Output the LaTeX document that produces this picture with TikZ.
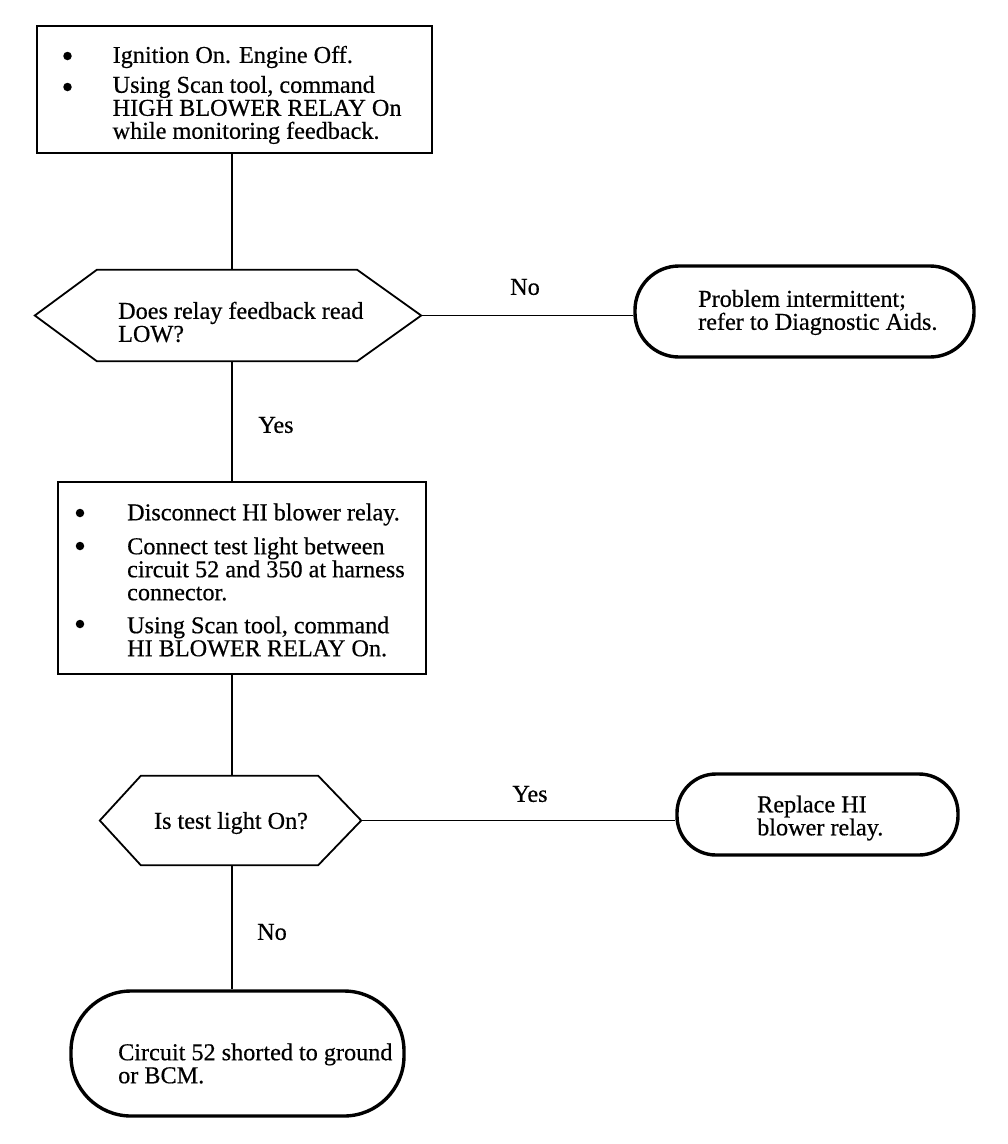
\documentclass[tikz,border=0pt]{standalone}
\usepackage{fontspec}
\setmainfont{Liberation Serif}[FakeBold=0.5]
\usetikzlibrary{calc,fit}
\begin{document}
\begin{tikzpicture}[x=1pt,y=-1pt,
  txt/.style={font=\fontsize{24.2}{23}\selectfont, inner sep=0pt, align=left},
  procbox/.style={draw, line width=2.2pt, inner sep=0pt},
  termbox/.style={draw, line width=3.4pt, inner sep=0pt, rounded corners=#1},
  area/.style={inner sep=0pt},
  hexline/.style={line width=1.8pt, line join=miter},
  conn/.style={line width=1.7pt},
  bul/.style={circle, fill, inner sep=0pt, minimum size=8.5pt}]
\useasboundingbox (0,0) rectangle (1008,1144);
\coordinate (spine) at (232,0);

% box 1
\node[procbox, fit={(37,26) (432,153)}] (b1) {};
\node[bul] (b1u1) at (67.5,56) {};
\node[txt, anchor=west] (b1t1) at (112.5,57) {Ignition On. Engine Off.};
\node[bul] (b1u2) at (67.5,87) {};
\node[txt, anchor=west] (b1t2) at (112.5,110) {Using Scan tool, command\\HIGH BLOWER RELAY On\\while monitoring feedback.};

% decision 1
\node[area, fit={(35,270) (421,361)}] (d1) {};
\draw[hexline] (d1.west) -- ($(d1.north west)+(62,0)$) -- ($(d1.north east)+(-64,0)$)
  -- (d1.east) -- ($(d1.south east)+(-64,0)$) -- ($(d1.south west)+(62,0)$) -- cycle;
\node[txt, anchor=west] (d1t) at (118,322) {Does relay feedback read\\LOW?};

% terminal 1
\node[termbox=44pt, fit={(635,266) (974,357)}] (t1) {};
\node[txt, anchor=west] (t1t) at (698,312.5) {Problem intermittent;\\refer to Diagnostic Aids.};

% box 2
\node[procbox, fit={(58,482) (426,674)}] (b2) {};
\node[bul] (b2u1) at (80,513) {};
\node[txt, anchor=west] (b2t1) at (127,514.5) {Disconnect HI blower relay.};
\node[bul] (b2u2) at (80,546) {};
\node[txt, anchor=west] (b2t2) at (127,569) {Connect test light between\\circuit 52 and 350 at harness\\connector.};
\node[bul] (b2u3) at (80,624) {};
\node[txt, anchor=west] (b2t3) at (127,636.5) {Using Scan tool, command\\HI BLOWER RELAY On.};

% decision 2
\node[area, fit={(100,776) (361,865)}] (d2) {};
\draw[hexline] (d2.west) -- ($(d2.north west)+(41,0)$) -- ($(d2.north east)+(-43,0)$)
  -- (d2.east) -- ($(d2.south east)+(-43,0)$) -- ($(d2.south west)+(41,0)$) -- cycle;
\node[txt, anchor=center] (d2t) at (231,823) {Is test light On?};

% terminal 2
\node[termbox=39pt, fit={(677,774) (958,855)}] (t2) {};
\node[txt, anchor=west] (t2t) at (757,818) {Replace HI\\blower relay.};

% terminal 3
\node[termbox=60pt, fit={(71,991) (404,1116)}] (t3) {};
\node[txt, anchor=west] (t3t) at (118,1063.5) {Circuit 52 shorted to ground\\or BCM.};

% connectors
\draw[conn] (b1.south -| spine) -- (d1.north -| spine);
\draw[conn] (d1.east) -- (d1.east -| t1.west);
\draw[conn] (d1.south -| spine) -- (b2.north -| spine);
\draw[conn] (b2.south -| spine) -- (d2.north -| spine);
\draw[conn] (d2.east) -- (d2.east -| t2.west);
\draw[conn] (d2.south -| spine) -- (t3.north -| spine);

% labels
\node[txt] (l1) at (525,287) {No};
\node[txt] (l2) at (276,425) {Yes};
\node[txt] (l3) at (530,794) {Yes};
\node[txt] (l4) at (272,932) {No};
\end{tikzpicture}
\end{document}
